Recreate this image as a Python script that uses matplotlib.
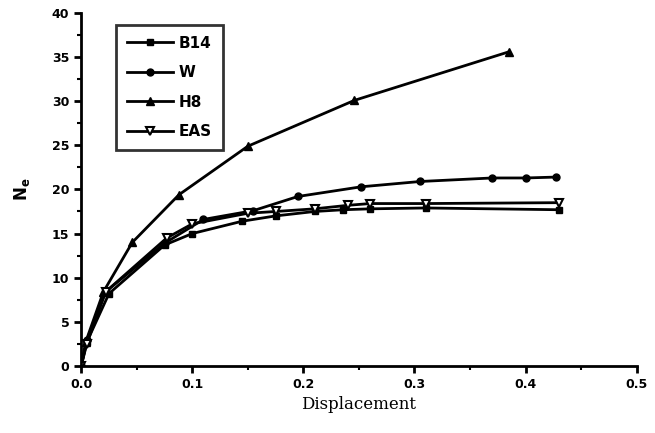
import matplotlib
matplotlib.use("Agg")
import matplotlib.pyplot as plt
from matplotlib.ticker import MultipleLocator, FormatStrFormatter

# data
b14_x = [0, 0.005, 0.025, 0.075, 0.10, 0.145, 0.175, 0.21, 0.236, 0.26, 0.31, 0.43]
b14_y = [0, 2.7, 8.2, 13.7, 15.0, 16.4, 17.0, 17.5, 17.7, 17.8, 17.9, 17.7]

w_x = [0, 0.005, 0.022, 0.075, 0.11, 0.155, 0.195, 0.252, 0.305, 0.37, 0.40, 0.427]
w_y = [0, 2.9, 8.4, 13.9, 16.6, 17.6, 19.2, 20.3, 20.9, 21.3, 21.3, 21.4]

h8_x = [0, 0.004, 0.02, 0.046, 0.088, 0.15, 0.246, 0.385]
h8_y = [0, 2.7, 8.4, 14.0, 19.4, 24.9, 30.1, 35.6]

eas_x = [0, 0.005, 0.022, 0.077, 0.10, 0.15, 0.175, 0.21, 0.24, 0.26, 0.31, 0.43]
eas_y = [0, 2.5, 8.4, 14.5, 16.1, 17.3, 17.5, 17.8, 18.2, 18.4, 18.4, 18.5]

fig = plt.figure(figsize=(6.55, 4.33), dpi=100)
ax = fig.add_axes([0.124, 0.155, 0.848, 0.815])

lw = 2.0
ax.plot(b14_x, b14_y, '-', color='k', lw=lw, marker='s', ms=5, label='B14')
ax.plot(w_x, w_y, '-', color='k', lw=lw, marker='o', ms=5, label='W')
ax.plot(h8_x, h8_y, '-', color='k', lw=lw, marker='^', ms=6, label='H8')
ax.plot(eas_x, eas_y, '-', color='k', lw=lw, marker='v', ms=6,
        mfc='white', mew=1.5, label='EAS')

ax.set_xlim(0, 0.5)
ax.set_ylim(0, 40)
ax.xaxis.set_major_locator(MultipleLocator(0.1))
ax.xaxis.set_minor_locator(MultipleLocator(0.05))
ax.yaxis.set_major_locator(MultipleLocator(5))
ax.yaxis.set_minor_locator(MultipleLocator(2.5))
ax.xaxis.set_major_formatter(FormatStrFormatter('%.1f'))

for s in ['top', 'right']:
    ax.spines[s].set_visible(False)
for s in ['left', 'bottom']:
    ax.spines[s].set_linewidth(2)
ax.tick_params(which='major', direction='out', length=5, width=2, labelsize=9)
ax.tick_params(which='minor', direction='out', length=3, width=1.5)
for t in ax.get_xticklabels() + ax.get_yticklabels():
    t.set_fontweight('bold')

ax.set_xlabel('Displacement', family='DejaVu Serif', fontsize=12)
ax.set_ylabel(r'$\mathbf{N_e}$', fontsize=12, labelpad=14)

leg = ax.legend(loc='upper left', bbox_to_anchor=(0.063, 0.966), frameon=True,
                fancybox=False, edgecolor='k', handlelength=3, borderaxespad=0,
                prop={'weight': 'bold', 'size': 11}, borderpad=0.7,
                labelspacing=0.95, handletextpad=0.4)
leg.get_frame().set_linewidth(2)

fig.savefig('out.png', dpi=100)
